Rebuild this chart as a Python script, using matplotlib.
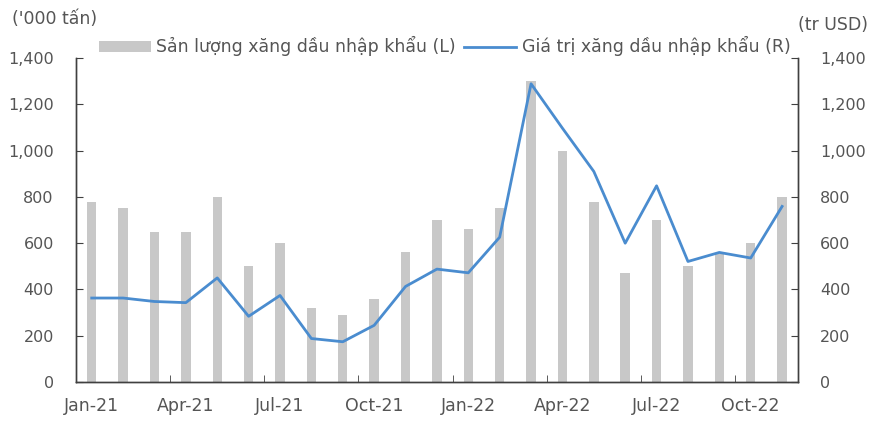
import matplotlib
matplotlib.use("Agg")
import matplotlib.pyplot as plt
import numpy as np

months = [
    "Jan-21", "Feb-21", "Mar-21", "Apr-21", "May-21", "Jun-21", "Jul-21", "Aug-21",
    "Sep-21", "Oct-21", "Nov-21", "Dec-21", "Jan-22", "Feb-22", "Mar-22", "Apr-22",
    "May-22", "Jun-22", "Jul-22", "Aug-22", "Sep-22", "Oct-22", "Nov-22",
]
volume = [780, 750, 650, 650, 800, 500, 600, 320, 290, 360, 560, 700,
          660, 750, 1300, 1000, 780, 470, 700, 500, 555, 600, 800]
value = [363, 363, 348, 343, 450, 284, 374, 188, 174, 245, 413, 488,
         472, 626, 1289, 1097, 910, 600, 848, 521, 560, 536, 759]

label_left = "Sản lượng xăng dầu nhập khẩu (L)"
label_right = "Giá trị xăng dầu nhập khẩu (R)"

text_color = "#555555"
spine_color = "#404040"
plt.rcParams["font.family"] = ["DejaVu Sans"]
plt.rcParams["font.size"] = 12.5

fig = plt.figure(figsize=(8.7, 4.21), dpi=100)
ax = fig.add_axes([0.0874, 0.0926, 0.8296, 0.7694])
ax2 = ax.twinx()

x = np.arange(len(months))
bars = ax.bar(x, volume, width=0.3, color="#c8c8c8", zorder=1)
line, = ax2.plot(x, value, color="#4a8ccf", linewidth=2.0, zorder=3)

ax.set_xlim(-0.5, len(months) - 0.5)
ax.set_ylim(0, 1400)
ax2.set_ylim(0, 1400)
ticks = np.arange(0, 1401, 200)
ax.set_yticks(ticks)
ax2.set_yticks(ticks)
ax.set_yticklabels([f"{t:,}" for t in ticks], fontsize=11.5)
ax2.set_yticklabels([f"{t:,}" for t in ticks], fontsize=11.5)

# labels every 3 months under the bars, tick marks on category boundaries
ax.set_xticks(x[::3])
ax.set_xticklabels(months[::3])
ax.set_xticks(np.arange(2.5, len(months) - 0.5, 3), minor=True)
ax.tick_params(axis="x", which="major", length=0, pad=11, colors=text_color)
ax.tick_params(axis="x", which="minor", length=5, direction="in", color=spine_color)
ax.tick_params(axis="y", length=5, direction="in", pad=16, colors=text_color, color=spine_color)
ax2.tick_params(axis="y", length=5, direction="in", pad=16, colors=text_color, color=spine_color)

for a in (ax, ax2):
    a.spines["top"].set_visible(False)
    for s in ("left", "right", "bottom"):
        a.spines[s].set_color(spine_color)
        a.spines[s].set_linewidth(1.0)

fig.text(0.014, 0.955, "('000 tấn)", color=text_color, ha="left", va="center")
fig.text(0.998, 0.94, "(tr USD)", color=text_color, ha="right", va="center")

fig.legend([bars, line], [label_left, label_right], loc="center",
           bbox_to_anchor=(0.511, 0.89), ncol=2, frameon=False,
           handlelength=3.0, handleheight=0.6, columnspacing=0.5,
           handletextpad=0.3, labelcolor=text_color)

fig.savefig("out.png", dpi=100)
